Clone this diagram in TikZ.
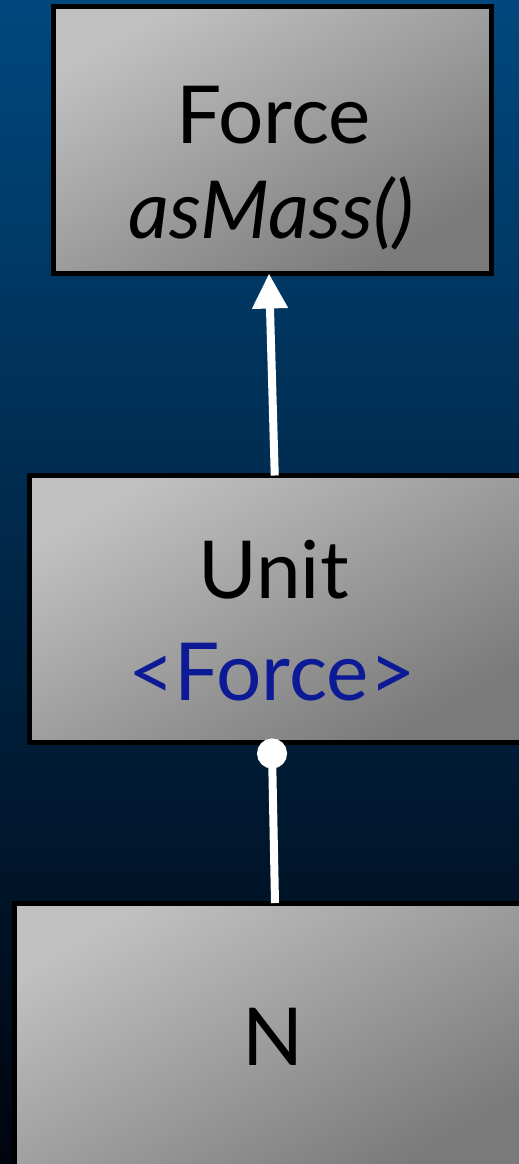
\documentclass[tikz,border=0pt]{standalone}
\usepackage{fontspec}
\setmainfont{Lato}
\usetikzlibrary{arrows.meta}
\definecolor{bgtop}{RGB}{0,72,126}
\definecolor{bgbot}{RGB}{0,4,14}
\definecolor{boxlight}{RGB}{192,192,192}
\definecolor{boxdark}{RGB}{122,122,122}
\definecolor{tparam}{RGB}{12,26,150}
\tikzset{
  umlbox/.style={draw=black, line width=5pt, outer sep=0pt, inner sep=0pt,
    top color=boxlight, bottom color=boxdark, shading angle=30},
  lbl/.style={anchor=base, inner sep=0pt, font=\fontsize{80}{92}\selectfont},
  conn/.style={draw=white, line width=8pt},
}
\begin{document}
\begin{tikzpicture}[x=1pt,y=1pt]
\useasboundingbox (0,0) rectangle (519,-1164);
\clip (0,0) rectangle (519,-1164);
\shade[top color=bgtop, bottom color=bgbot] (0,0) rectangle (519,-1164);
% boxes
\node[umlbox, minimum width=438pt, minimum height=267pt] (force) at (272.5,-140) {};
\node[umlbox, minimum width=492.5pt, minimum height=267pt] (unit) at (275.75,-609) {};
\node[umlbox, minimum width=518pt, minimum height=267pt] (n) at (273,-1036.5) {};
% labels
\node[lbl] (forcet) at ([xshift=1pt,yshift=-3pt]force.center) {Force};
\node[lbl] (forcem) at ([xshift=-1pt,yshift=-98pt]force.center) {\itshape asMass()};
\node[lbl] (unitt) at ([xshift=-2pt,yshift=11pt]unit.center) {Unit};
\node[lbl, text=tparam] (unitp) at ([xshift=-4pt,yshift=-91pt]unit.center) {<Force>};
\node[lbl] (nt) at ([xshift=0pt,yshift=-28.5pt]n.center) {N};
% connectors
\draw[conn, -{Triangle[width=34pt,length=35pt]}, white]
  ([xshift=-1pt]unit.north) -- ([xshift=-3.5pt]force.south);
\draw[conn, {Circle[length=30pt]}-, white]
  ([xshift=-4pt,yshift=4pt]unit.south) -- ([xshift=2pt]n.north);
\end{tikzpicture}
\end{document}
